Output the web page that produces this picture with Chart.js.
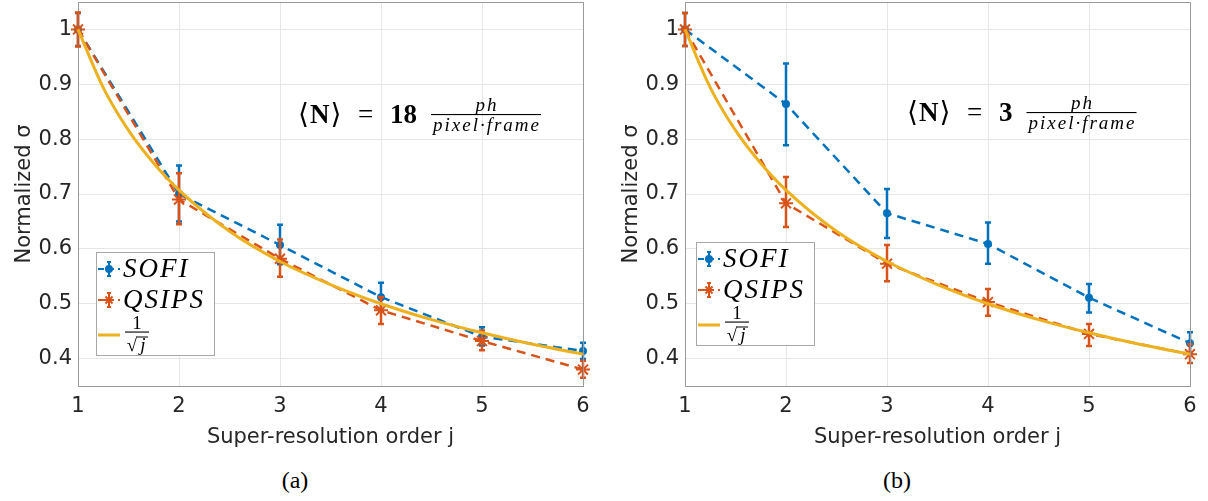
<!DOCTYPE html>
<html><head><meta charset="utf-8">
<script src="https://cdn.jsdelivr.net/npm/chart.js@4"></script>
<style>
html,body{margin:0;padding:0;background:#fff;}
body{width:1208px;height:501px;overflow:hidden;position:relative;}
canvas{position:absolute;top:0;}
#ca{left:0;} #cb{left:607px;}
.cap{position:absolute;top:467px;width:60px;text-align:center;font:24px "Liberation Serif","DejaVu Serif",serif;color:#000;}
</style></head><body>
<canvas id="ca" width="600" height="460"></canvas>
<canvas id="cb" width="600" height="460"></canvas>
<div class="cap" style="left:265px">(a)</div>
<div class="cap" style="left:867px">(b)</div>
<script>
// ---------- data ----------
const J = [1, 2, 3, 4, 5, 6];
const X_TICKS = [1, 2, 3, 4, 5, 6];
const Y_TICKS = [0.4, 0.5, 0.6, 0.7, 0.8, 0.9, 1.0];
const Y_TICK_LABELS = ['0.4', '0.5', '0.6', '0.7', '0.8', '0.9', '1'];
const SERIES_NAMES = ['SOFI', 'QSIPS'];
const X_TITLE = 'Super-resolution order j';
const Y_TITLE = 'Normalized σ';

// panel (a)  <N> = 18
const SOFI_A    = [1.000, 0.700, 0.607, 0.512, 0.440, 0.414];
const SOFI_A_LO = [0.970, 0.650, 0.572, 0.487, 0.424, 0.399];
const SOFI_A_HI = [1.030, 0.752, 0.644, 0.538, 0.457, 0.429];
const QSIPS_A    = [1.000, 0.690, 0.582, 0.488, 0.432, 0.380];
const QSIPS_A_LO = [0.969, 0.645, 0.549, 0.463, 0.415, 0.365];
const QSIPS_A_HI = [1.031, 0.738, 0.617, 0.512, 0.451, 0.396];

// panel (b)  <N> = 3
const SOFI_B    = [1.000, 0.864, 0.665, 0.609, 0.511, 0.428];
const SOFI_B_LO = [0.970, 0.789, 0.620, 0.573, 0.484, 0.410];
const SOFI_B_HI = [1.030, 0.938, 0.709, 0.648, 0.536, 0.448];
const QSIPS_B    = [1.000, 0.683, 0.573, 0.503, 0.445, 0.408];
const QSIPS_B_LO = [0.970, 0.640, 0.541, 0.478, 0.423, 0.392];
const QSIPS_B_HI = [1.030, 0.731, 0.607, 0.527, 0.463, 0.426];

// reference curve
const CURVE_J = [1, 1.25, 1.5, 1.75, 2, 2.5, 3, 3.5, 4, 4.5, 5, 5.5, 6];
const CURVE_V = [1.000, 0.894, 0.816, 0.756, 0.707, 0.632, 0.577, 0.535, 0.500, 0.471, 0.447, 0.426, 0.408];

// ---------- style ----------
const BLU = '#0072BD', ORA = '#D95319', YEL = '#EDB120';
const GRID = '#e6e6e6', AX = '#9a9a9a', TXT = '#262626';
const SANS = '"DejaVu Sans", Verdana, sans-serif';
const SERIF = '"Liberation Serif", "DejaVu Serif", serif';

const pts = (xs, ys) => xs.map((x, i) => ({x: x, y: ys[i]}));

const errorBars = {
  id: 'errorBars',
  afterDatasetDraw(chart, args) {
    const ds = chart.data.datasets[args.index];
    if (!ds.errLo) return;
    const ctx = chart.ctx, xs = chart.scales.x, ys = chart.scales.y;
    ctx.save();
    ctx.strokeStyle = ds.borderColor; ctx.lineWidth = 2.5; ctx.setLineDash([]);
    ds.data.forEach((p, i) => {
      const px = xs.getPixelForValue(p.x);
      const y1 = ys.getPixelForValue(ds.errLo[i]), y2 = ys.getPixelForValue(ds.errHi[i]);
      ctx.beginPath();
      ctx.moveTo(px, y1); ctx.lineTo(px, y2);
      ctx.moveTo(px - 3, y1); ctx.lineTo(px + 3, y1);
      ctx.moveTo(px - 3, y2); ctx.lineTo(px + 3, y2);
      ctx.stroke();
    });
    ctx.restore();
  }
};

const boxPlugin = {
  id: 'boxPlugin',
  afterDraw(chart) {
    const {ctx, chartArea: a} = chart;
    ctx.save(); ctx.strokeStyle = AX; ctx.lineWidth = 1;
    ctx.beginPath();
    ctx.moveTo(a.left, a.top + 0.5); ctx.lineTo(a.right + 0.5, a.top + 0.5); ctx.lineTo(a.right + 0.5, a.bottom);
    ctx.stroke(); ctx.restore();
  }
};

const annotPlugin = {
  id: 'annot',
  afterDraw(chart, args, o) {
    const ctx = chart.ctx, a = chart.chartArea;
    const x0 = a.left + o.dx, base = o.base;
    ctx.save(); ctx.fillStyle = '#000'; ctx.textBaseline = 'alphabetic'; ctx.textAlign = 'left';
    let x = x0;
    ctx.font = '28px ' + SERIF;
    ctx.fillText('⟨', x, base); x += ctx.measureText('⟨').width + 1;
    ctx.font = 'bold 27px ' + SERIF;
    ctx.fillText('N', x, base); x += ctx.measureText('N').width + 1;
    ctx.font = '28px ' + SERIF;
    ctx.fillText('⟩', x, base);
    ctx.font = '27px ' + SERIF;
    ctx.fillText('=', x0 + 60, base);
    ctx.font = 'bold 27px ' + SERIF;
    ctx.fillText(o.num, x0 + 92, base);
    const numEnd = x0 + 92 + ctx.measureText(o.num).width;
    ctx.font = 'italic 19px ' + SERIF;
    ctx.letterSpacing = '2px';
    const den = 'pixel·frame';
    const dw = ctx.measureText(den).width;
    const fx = numEnd + 14, barY = base - 8.5;
    ctx.textAlign = 'center';
    ctx.fillText('ph', fx + dw / 2 + 2, barY - 4);
    ctx.fillText(den, fx + dw / 2 + 2, barY + 16);
    ctx.letterSpacing = '0px';
    ctx.fillRect(fx, barY - 0.5, dw + 2, 1.1);
    ctx.restore();
  }
};

const legendPlugin = {
  id: 'paperLegend',
  afterDraw(chart, args, o) {
    const ctx = chart.ctx;
    const L = chart.chartArea.left + o.dx, T = o.top, W = 118, H = 103;
    ctx.save();
    ctx.fillStyle = '#fff'; ctx.fillRect(L, T, W, H);
    ctx.strokeStyle = '#a8a8a8'; ctx.lineWidth = 1; ctx.strokeRect(L + 0.5, T + 0.5, W, H);
    const rows = [
      {y: T + 17, color: BLU, style: 'circle', name: SERIES_NAMES[0]},
      {y: T + 48, color: ORA, style: 'star', name: SERIES_NAMES[1]}
    ];
    rows.forEach(r => {
      ctx.strokeStyle = r.color; ctx.lineWidth = 2;
      ctx.setLineDash([6, 4]);
      ctx.beginPath(); ctx.moveTo(L + 2, r.y); ctx.lineTo(L + 24, r.y); ctx.stroke();
      ctx.setLineDash([]);
      ctx.beginPath();
      ctx.moveTo(L + 13, r.y - 7); ctx.lineTo(L + 13, r.y + 7);
      ctx.moveTo(L + 11, r.y - 7); ctx.lineTo(L + 15, r.y - 7);
      ctx.moveTo(L + 11, r.y + 7); ctx.lineTo(L + 15, r.y + 7);
      ctx.stroke();
      ctx.fillStyle = r.color;
      Chart.helpers.drawPoint(ctx, {pointStyle: r.style, radius: r.style === 'circle' ? 3 : 5, borderWidth: 1.5, rotation: 0}, L + 13, r.y);
      ctx.fillStyle = '#000';
      ctx.font = 'italic 27px ' + SERIF;
      ctx.letterSpacing = '2px';
      ctx.textAlign = 'left'; ctx.textBaseline = 'middle';
      ctx.fillText(r.name, L + 27, r.y + 1);
      ctx.letterSpacing = '0px';
    });
    // reference curve entry
    const yb = T + 80;
    ctx.strokeStyle = YEL; ctx.lineWidth = 3;
    ctx.beginPath(); ctx.moveTo(L + 2, yb + 3); ctx.lineTo(L + 24, yb + 3); ctx.stroke();
    ctx.fillStyle = '#000';
    ctx.fillRect(L + 29, yb - 0.5, 24, 1.1);
    ctx.textAlign = 'center'; ctx.textBaseline = 'alphabetic';
    ctx.font = '19px ' + SERIF;
    ctx.fillText('1', L + 41, yb - 3);
    ctx.fillText('√', L + 36, yb + 19);
    ctx.font = 'italic 19px ' + SERIF;
    ctx.fillText('j', L + 47, yb + 19);
    ctx.fillRect(L + 41, yb + 4.5, 11, 1);
    ctx.restore();
  }
};

function makeChart(id, sofi, sLo, sHi, qs, qLo, qHi, ann, leg) {
  return new Chart(document.getElementById(id), {
    type: 'line',
    data: {datasets: [
      {label: '1/√j', data: pts(CURVE_J, CURVE_V), borderColor: YEL, borderWidth: 3,
       pointRadius: 0, cubicInterpolationMode: 'monotone', fill: false, order: 0, clip: false},
      {label: SERIES_NAMES[1], data: pts(J, qs), borderColor: ORA, backgroundColor: ORA,
       borderWidth: 2.5, borderDash: [9, 6], pointStyle: 'star', pointRadius: 7,
       pointBorderWidth: 2, pointBorderColor: ORA, fill: false, order: 1, clip: false,
       errLo: qLo, errHi: qHi},
      {label: SERIES_NAMES[0], data: pts(J, sofi), borderColor: BLU, backgroundColor: BLU,
       borderWidth: 2.5, borderDash: [9, 6], pointStyle: 'circle', pointRadius: 4,
       pointBorderWidth: 0, pointBackgroundColor: BLU, fill: false, order: 2, clip: false,
       errLo: sLo, errHi: sHi}
    ]},
    options: {
      responsive: false, animation: false, events: [],
      layout: {autoPadding: false, padding: {left: 0, right: 17, top: 2, bottom: 0}},
      plugins: {legend: {display: false}, tooltip: {enabled: false}, annot: ann, paperLegend: leg},
      scales: {
        x: {type: 'linear', min: 1, max: 6,
            afterBuildTicks: s => { s.ticks = X_TICKS.map(v => ({value: v})); },
            afterFit: s => { s.height = 74; s.paddingLeft = 0; s.paddingRight = 0; },
            grid: {color: GRID, drawTicks: false, lineWidth: 1},
            border: {color: AX, width: 1},
            ticks: {padding: 8, color: TXT, font: {family: SANS, size: 21}, callback: (v, i) => String(X_TICKS[i])},
            title: {display: true, text: X_TITLE, color: TXT, font: {family: SANS, size: 21}, padding: {top: 4, bottom: 10}}},
        y: {type: 'linear', min: 0.35, max: 1.05,
            afterBuildTicks: s => { s.ticks = Y_TICKS.map(v => ({value: v})); },
            afterFit: s => { s.width = 78; s.paddingTop = 0; s.paddingBottom = 0; },
            grid: {color: GRID, drawTicks: false, lineWidth: 1},
            border: {color: AX, width: 1},
            ticks: {padding: 6, color: TXT, font: {family: SANS, size: 21}, callback: (v, i) => Y_TICK_LABELS[i]},
            title: {display: true, text: Y_TITLE, color: TXT, font: {family: SANS, size: 21}, padding: {top: 12, bottom: 4}}}
      }
    },
    plugins: [errorBars, boxPlugin, annotPlugin, legendPlugin]
  });
}

makeChart('ca', SOFI_A, SOFI_A_LO, SOFI_A_HI, QSIPS_A, QSIPS_A_LO, QSIPS_A_HI,
          {dx: 220, base: 123, num: '18'}, {dx: 18, top: 252});
makeChart('cb', SOFI_B, SOFI_B_LO, SOFI_B_HI, QSIPS_B, QSIPS_B_LO, QSIPS_B_HI,
          {dx: 222, base: 121, num: '3'}, {dx: 11, top: 242});
</script>
</body></html>
